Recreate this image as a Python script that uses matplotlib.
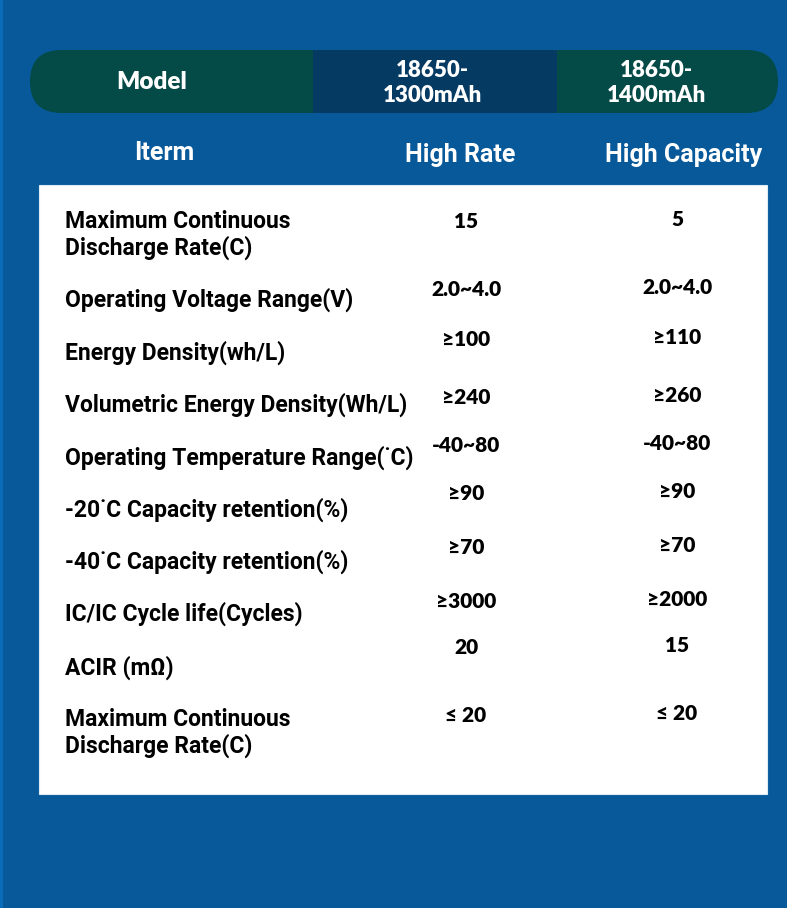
import matplotlib.pyplot as plt
from matplotlib.patches import FancyBboxPatch, Rectangle

# table content
models = ["18650-\n1300mAh", "18650-\n1400mAh"]
model_head = "Model"
item_head = "Iterm"
types = ["High Rate", "High Capacity"]
items = ["Maximum Continuous\nDischarge Rate(C)",
         "Operating Voltage Range(V)",
         "Energy Density(wh/L)",
         "Volumetric Energy Density(Wh/L)",
         "Operating Temperature Range(˙C)",
         "-20˙C Capacity retention(%)",
         "-40˙C Capacity retention(%)",
         "IC/IC Cycle life(Cycles)",
         "ACIR (mΩ)",
         "Maximum Continuous\nDischarge Rate(C)"]
high_rate = ["15", "2.0~4.0", "≥100", "≥240", "-40~80", "≥90", "≥70", "≥3000", "20", "≤ 20"]
high_cap = ["5", "2.0~4.0", "≥110", "≥260", "-40~80", "≥90", "≥70", "≥2000", "15", "≤ 20"]

# layout (pixels)
W, H = 787, 908
label_y = [222, 300, 353, 405, 458, 510, 562, 614, 668, 720]
value_y = [222, 289, 339, 398, 445, 494, 547, 602, 647, 715]
col_x = [466, 677]

bg = "#07599A"
teal = "#044A47"
navy = "#053A63"

fig = plt.figure(figsize=(W / 100, H / 100), dpi=100)
fig.patch.set_facecolor(bg)
ax = fig.add_axes([0, 0, 1, 1])
ax.set_xlim(0, W)
ax.set_ylim(H, 0)
ax.axis("off")

ax.add_patch(Rectangle((0, 0), 2.5, H, color="#0B6DBA", lw=0))

# header pill
ax.add_patch(FancyBboxPatch((30, 50), 748, 63, boxstyle="round,pad=0,rounding_size=31.5",
                            fc=teal, ec="none"))
ax.add_patch(Rectangle((313, 50), 244, 63, fc=navy, ec="none"))

hfont = dict(family=["Lato", "DejaVu Sans"], weight="heavy", color="white",
             ha="center", va="center")
ax.text(152, 82, model_head, fontsize=17.5, **hfont)
ax.text(432, 83, models[0], fontsize=16, linespacing=1.2, **hfont)
ax.text(656, 83, models[1], fontsize=16, linespacing=1.2, **hfont)

sfont = dict(family=["Roboto", "DejaVu Sans"], weight="bold", color="white",
             ha="center", va="center")
ax.text(164, 153, item_head, fontsize=18, **sfont)
ax.text(460, 155, types[0], fontsize=18, **sfont)
ax.text(684, 155, types[1], fontsize=18, **sfont)

# white panel
ax.add_patch(Rectangle((39, 185), 728, 609, fc="white", ec="#DDEBF5", lw=0.8))

for lab, ly in zip(items, label_y):
    n = lab.count("\n")
    ax.text(65, ly + 13 * n, lab, fontsize=16.5, family=["Roboto", "DejaVu Sans"],
            weight="bold", color="black", ha="left", va="center", linespacing=1.12)

vfont = dict(family=["Lato", "DejaVu Sans"], weight="heavy", color="black",
             ha="center", va="center", fontsize=15)
for v, vy in zip(high_rate, value_y):
    ax.text(col_x[0], vy, v, **vfont)
for v, vy in zip(high_cap, value_y):
    ax.text(col_x[1], vy - 2, v, **vfont)

fig.savefig("out.png", dpi=100, facecolor=bg)
